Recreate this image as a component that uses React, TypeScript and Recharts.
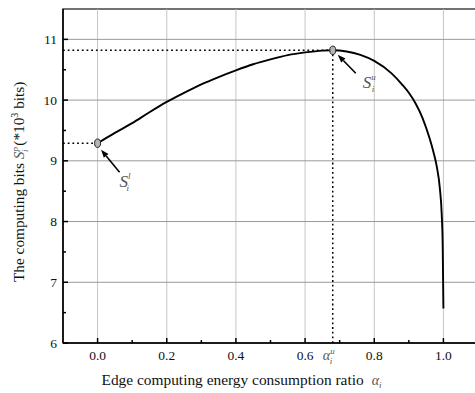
import React from 'react';
import { LineChart, Line, XAxis, YAxis, ReferenceLine, ReferenceDot, ReferenceArea, Label } from 'recharts';

const alphaValues = [0, 0.05, 0.1, 0.15, 0.2, 0.25, 0.3, 0.35, 0.4, 0.45, 0.5, 0.55, 0.6, 0.65, 0.68, 0.72, 0.76, 0.8, 0.85, 0.88, 0.9, 0.92, 0.94, 0.96, 0.97, 0.98, 0.99, 0.995, 0.998, 1.0];
const bitsValues = [9.29, 9.46, 9.62, 9.8, 9.97, 10.12, 10.26, 10.38, 10.49, 10.59, 10.67, 10.74, 10.785, 10.815, 10.82, 10.8, 10.745, 10.645, 10.44, 10.26, 10.12, 9.94, 9.7, 9.37, 9.17, 8.93, 8.53, 8.13, 7.58, 6.57];
const xMajorTicks = [0, 0.2, 0.4, 0.6, 0.8, 1.0];
const xMinorTicks = [0.1, 0.3, 0.5, 0.7, 0.9];
const yMajorTicks = [6, 7, 8, 9, 10, 11];
const yMinorTicks = [6.5, 7.5, 8.5, 9.5, 10.5];
const xGridLines = [0, 0.2, 0.4, 0.6, 0.8, 1.0];
const yGridLines = [7, 8, 9, 10, 11];
const xDomain = [-0.1, 1.1];
const yDomain = [6, 11.5];
const lowerPoint = { alpha: 0, bits: 9.29 };
const upperPoint = { alpha: 0.68, bits: 10.82 };

const data = alphaValues.map((a, i) => ({ alpha: a, bits: bitsValues[i] }));

const FONT = "'Liberation Serif', 'Times New Roman', serif";
const MATH_FILL = '#555';
const serif = { fontFamily: FONT };

const XTick = (props: any) => {
  const { x, y, payload } = props;
  const v = payload.value;
  if (v === upperPoint.alpha) {
    return (
      <text x={x - 4} y={y + 17} textAnchor="middle" style={serif} fontSize={14} fontStyle="italic" fill={MATH_FILL}>
        <tspan>α</tspan>
        <tspan dy={-6} fontSize={9}>u</tspan>
        <tspan dx={-5} dy={10} fontSize={9}>i</tspan>
      </text>
    );
  }
  const major = xMajorTicks.includes(v);
  return (
    <g>
      <line x1={x} x2={x} y1={y} y2={y - (major ? 5 : 3)} stroke="#000" strokeWidth={1.5} />
      {major && (
        <text x={x} y={y + 17} textAnchor="middle" style={serif} fontSize={13.5} fill="#111">
          {v.toFixed(1)}
        </text>
      )}
    </g>
  );
};

const YTick = (props: any) => {
  const { x, y, payload } = props;
  const v = payload.value;
  const major = yMajorTicks.includes(v);
  return (
    <g>
      <line x1={x} x2={x + (major ? 5 : 3)} y1={y} y2={y} stroke="#000" strokeWidth={1.5} />
      {major && (
        <text x={x - 6} y={y + 4.5} textAnchor="end" style={serif} fontSize={13.5} fill="#111">
          {String(v)}
        </text>
      )}
    </g>
  );
};

const XLabel = (props: any) => {
  const vb = props.viewBox || {};
  return (
    <text x={vb.x + 38.5} y={vb.y + 42} style={serif} fontSize={15.4} fill="#111">
      <tspan>Edge computing energy consumption ratio</tspan>
      <tspan dx={8} fontStyle="italic" fill={MATH_FILL} fontSize={14}>α</tspan>
      <tspan dy={3} fontSize={9} fontStyle="italic" fill={MATH_FILL}>i</tspan>
    </text>
  );
};

const YLabel = (props: any) => {
  const vb = props.viewBox || {};
  const sy = vb.y + vb.height - 61;
  const bx = vb.x + vb.width - 39;
  return (
    <g transform={`translate(${bx},${sy}) rotate(-90)`}>
      <text x={0} y={0} textAnchor="start" style={serif} fontSize={15.3} fill="#111">
        <tspan>The computing bits </tspan>
        <tspan fontStyle="italic" fill={MATH_FILL}>S</tspan>
        <tspan dy={-6} fontSize={9} fontStyle="italic" fill={MATH_FILL}>p</tspan>
        <tspan dx={-5} dy={10} fontSize={9} fontStyle="italic" fill={MATH_FILL}>i</tspan>
        <tspan dy={-4}> (*10</tspan>
        <tspan dy={-6} fontSize={10}>3</tspan>
        <tspan dy={6}> bits)</tspan>
      </text>
    </g>
  );
};

const arrow = (tx: number, ty: number, sx: number, sy: number) => {
  const dx = tx - sx;
  const dy = ty - sy;
  const len = Math.sqrt(dx * dx + dy * dy);
  const ux = dx / len;
  const uy = dy / len;
  const bx = tx - ux * 8;
  const by = ty - uy * 8;
  const px = -uy * 3;
  const py = ux * 3;
  return (
    <g>
      <line x1={sx} y1={sy} x2={bx} y2={by} stroke="#000" strokeWidth={1.6} />
      <polygon points={`${tx},${ty} ${bx + px},${by + py} ${bx - px},${by - py}`} fill="#000" />
    </g>
  );
};

const mathLabel = (x: number, y: number, sup: string) => (
  <text x={x} y={y} style={serif} fontSize={17} fontStyle="italic" fill={MATH_FILL}>
    <tspan>S</tspan>
    <tspan dy={-8} fontSize={9}>{sup}</tspan>
    <tspan dx={-4} dy={12} fontSize={9}>i</tspan>
  </text>
);

const LowerMarker = (props: any) => {
  const { cx, cy } = props;
  return (
    <g>
      {arrow(cx + 3.5, cy + 6.5, cx + 22, cy + 29)}
      <ellipse cx={cx} cy={cy} rx={3} ry={4.2} fill="#b5b5b5" stroke="#222" strokeWidth={1} />
      {mathLabel(cx + 22, cy + 44, 'l')}
    </g>
  );
};

const UpperMarker = (props: any) => {
  const { cx, cy } = props;
  return (
    <g>
      {arrow(cx + 5, cy + 4.5, cx + 23, cy + 23)}
      <ellipse cx={cx} cy={cy} rx={3} ry={4.2} fill="#b5b5b5" stroke="#222" strokeWidth={1} />
      {mathLabel(cx + 30, cy + 38, 'u')}
    </g>
  );
};

export default function App() {
  return (
    <div style={{ position: 'fixed', left: 0, top: 0, width: 475, height: 393, overflow: 'hidden', background: '#fff' }}>
      <LineChart width={480} height={393} data={data} margin={{ top: 9, right: 2, bottom: 0, left: 23 }}>
        {xGridLines.map((v) => (
          <ReferenceLine key={'gx' + v} x={v} stroke="#c4c4c4" strokeWidth={1} />
        ))}
        {yGridLines.map((v) => (
          <ReferenceLine key={'gy' + v} y={v} stroke="#999" strokeWidth={1} />
        ))}
        <ReferenceArea x1={xDomain[0]} x2={xDomain[1]} y1={yDomain[0]} y2={yDomain[1]} fill="none" stroke="#444" strokeWidth={1.5} />
        <XAxis
          dataKey="alpha"
          type="number"
          domain={xDomain}
          ticks={[...xMajorTicks, ...xMinorTicks, upperPoint.alpha]}
          interval={0}
          allowDataOverflow
          height={50}
          tickSize={0}
          tickMargin={0}
          tickLine={false}
          axisLine={{ stroke: '#000', strokeWidth: 1.5 }}
          tick={<XTick />}
        >
          <Label content={<XLabel />} />
        </XAxis>
        <YAxis
          type="number"
          domain={yDomain}
          ticks={[...yMajorTicks, ...yMinorTicks]}
          interval={0}
          allowDataOverflow
          width={40}
          tickSize={0}
          tickMargin={0}
          tickLine={false}
          axisLine={{ stroke: '#000', strokeWidth: 1.5 }}
          tick={<YTick />}
        >
          <Label content={<YLabel />} />
        </YAxis>
        <ReferenceLine segment={[{ x: xDomain[0], y: lowerPoint.bits }, { x: lowerPoint.alpha, y: lowerPoint.bits }]} stroke="#000" strokeWidth={1.5} strokeDasharray="1.8 2.9" />
        <ReferenceLine segment={[{ x: xDomain[0], y: upperPoint.bits }, { x: upperPoint.alpha, y: upperPoint.bits }]} stroke="#000" strokeWidth={1.5} strokeDasharray="1.8 2.9" />
        <ReferenceLine segment={[{ x: upperPoint.alpha, y: yDomain[0] }, { x: upperPoint.alpha, y: upperPoint.bits }]} stroke="#000" strokeWidth={1.5} strokeDasharray="1.8 2.9" />
        <Line type="monotone" dataKey="bits" stroke="#000" strokeWidth={1.9} dot={false} isAnimationActive={false} />
        <ReferenceDot x={lowerPoint.alpha} y={lowerPoint.bits} shape={<LowerMarker />} />
        <ReferenceDot x={upperPoint.alpha} y={upperPoint.bits} shape={<UpperMarker />} />
      </LineChart>
    </div>
  );
}
